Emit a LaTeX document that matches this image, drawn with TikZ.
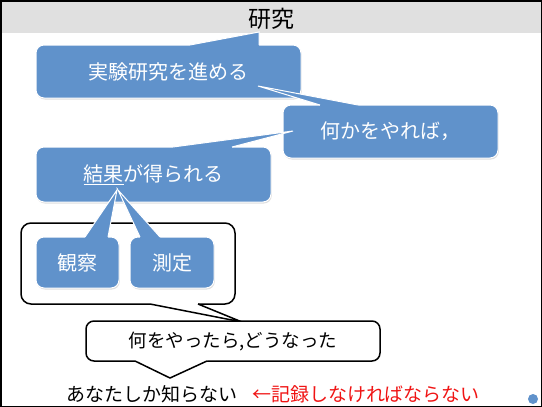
\documentclass[tikz,border=0pt]{standalone}
\usepackage{fontspec}
\newfontfamily\jp{Noto Sans CJK JP}
\usetikzlibrary{shadows}
\definecolor{boxblue}{RGB}{96,146,203}
\definecolor{bandgray}{RGB}{224,224,224}
\definecolor{recred}{RGB}{240,20,20}
\begin{document}
\begin{tikzpicture}[x=1pt,y=-1pt,
  bluebox/.style={draw=white, line width=1pt, fill=boxblue, rounded corners=8pt,
    text=white, inner sep=0pt, font=\jp\fontsize{20}{24}\selectfont,
    drop shadow={shadow xshift=0.8pt, shadow yshift=-1.5pt, opacity=0.25}},
  bluetail/.style={fill=boxblue},
  bluetailedge/.style={draw=white, line width=1pt},
  whitebox/.style={draw=black, line width=1.5pt, fill=white, inner sep=0pt},
  whitetail/.style={fill=white},
  whitetailedge/.style={draw=black, line width=1.5pt},
  plaintext/.style={inner sep=0pt, font=\jp\fontsize{19}{23}\selectfont}]
\useasboundingbox (0,0) rectangle (542,407);
\fill[white] (0,0) rectangle (542,407);
% title band
\fill[bandgray] (1.5,1.5) rectangle (540.5,33);
\node[inner sep=0pt, font=\jp\fontsize{23}{27}\selectfont] (title) at (271,19) {研究};
% box 1
\node[bluebox, minimum width=265pt, minimum height=53pt] (b1) at (168.5,71.5) {実験研究を進める};
\coordinate (t1) at (259,32);
\fill[bluetail] (190,45) -- (t1) -- (259,45) -- (259,48) -- (190,48) -- cycle;
\draw[bluetailedge] (190,45) -- (t1) -- (259,45);
% box 2
\node[bluebox, minimum width=215pt, minimum height=53pt] (b2) at (390.5,131.5) {何かをやれば，};
\coordinate (t2) at (258,86);
\fill[bluetail] (320,105) -- (t2) -- (358,105) -- (358,108) -- (320,108) -- cycle;
\draw[bluetailedge] (320,105) -- (t2) -- (358,105);
% box 3
\node[bluebox, minimum width=235pt, minimum height=55pt] (b3) at (153.5,174.5) {\underline{結果}が得られる};
\coordinate (t3) at (293,131);
\fill[bluetail] (173,147) -- (t3) -- (232,147) -- (232,150) -- (173,150) -- cycle;
\draw[bluetailedge] (173,147) -- (t3) -- (232,147);
% group callout
\node[whitebox, rounded corners=10pt, minimum width=214pt, minimum height=81pt] (grp) at (128,263.5) {};
\coordinate (tg) at (242,322);
\fill[whitetail] (150,304) -- (tg) -- (198,304) -- (198,301) -- (150,301) -- cycle;
\draw[whitetailedge] (150,304) -- (tg) -- (198,304);
% observation / measurement
\node[bluebox, minimum width=83pt, minimum height=51pt] (obs) at (77.5,262.5) {観察};
\coordinate (to) at (117,190);
\fill[bluetail] (85,237) -- (to) -- (108,237) -- (108,240) -- (85,240) -- cycle;
\draw[bluetailedge] (85,237) -- (to) -- (108,237);
\node[bluebox, minimum width=84pt, minimum height=51pt] (mea) at (172,262.5) {測定};
\coordinate (tm) at (118,190);
\fill[bluetail] (140,237) -- (tm) -- (160,237) -- (160,240) -- (140,240) -- cycle;
\draw[bluetailedge] (140,237) -- (tm) -- (160,237);
% what happened
\node[whitebox, rounded corners=8pt, minimum width=294pt, minimum height=40pt,
  font=\jp\fontsize{18.5}{22}\selectfont] (q) at (233,341) {何をやったら,どうなった};
\coordinate (tq) at (170,378);
\fill[whitetail] (135,361) -- (tq) -- (207,361) -- (207,358) -- (135,358) -- cycle;
\draw[whitetailedge] (135,361) -- (tq) -- (207,361);
% bottom texts
\node[plaintext] (you) at (152,394) {あなたしか知らない};
\node[plaintext, text=recred] (rec) at (366,394) {←記録しなければならない};
% dot
\node[circle, fill=boxblue, minimum size=10pt, inner sep=0pt] (dot) at (533,399) {};
% frame
\draw[line width=1.5pt] (0.75,0.75) rectangle (541.25,406.25);
\end{tikzpicture}
\end{document}
